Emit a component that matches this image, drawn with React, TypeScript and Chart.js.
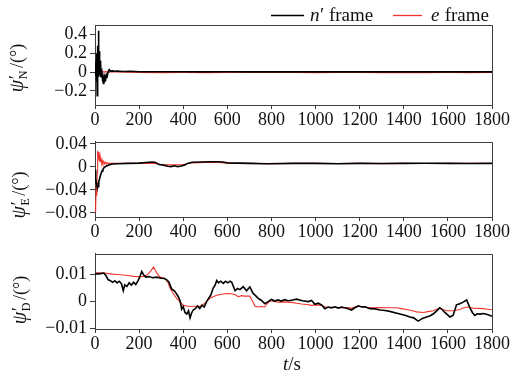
import React, { useEffect, useRef } from "react";
import { Chart, registerables } from "chart.js";
Chart.register(...registerables);

const FONT = '"Liberation Serif", "DejaVu Serif", serif';
const AX = "#3c3c3c";
const TXT = "#111";
const BLACK = "#000000";
const RED = "#f0342c";

const xTickValues = [0, 200, 400, 600, 800, 1000, 1200, 1400, 1600, 1800];
const nYTicks = [-0.2, 0, 0.2, 0.4];
const eYTicks = [-0.08, -0.04, 0, 0.04];
const dYTicks = [-0.01, 0, 0.01];
const legendItems = [
  { italic: "n", rest: "′ frame", color: BLACK },
  { italic: "e", rest: " frame", color: RED },
];

// panel N : [t (s), value (deg)]
const nBlack: [number, number][] = [
  [0, 0.02], [2, 0.08], [4, -0.04], [5, 0.12], [6, -0.06], [7, 0.2], [8, -0.1], [9, 0.15],
  [10, -0.25], [11, 0.2], [12, -0.05], [13, 0.28], [14, 0.05], [15, 0.2], [16, -0.02], [17, 0.44],
  [18, -0.05], [19, 0.22], [20, -0.03], [21, 0.2], [22, 0.0], [23, 0.12], [24, -0.05], [25, 0.1],
  [26, -0.03], [27, 0.06], [28, -0.04], [29, 0.03], [30, -0.06], [32, -0.02], [34, -0.1], [36, -0.08],
  [38, -0.12], [40, -0.08], [42, -0.1], [44, -0.07], [46, -0.09], [48, -0.05], [50, -0.06], [53, -0.03],
  [56, -0.04], [59, 0.0], [62, 0.02], [65, 0.025], [70, 0.01], [80, 0.012], [90, 0.008], [100, 0.01],
  [130, 0.006], [160, 0.008], [200, 0.004], [300, 0.003], [400, 0.004], [500, 0.002], [600, 0.003],
  [700, 0.002], [800, 0.002], [900, 0.002], [1000, 0.002], [1100, 0.002], [1200, 0.002], [1300, 0.002],
  [1400, 0.002], [1500, 0.002], [1600, 0.002], [1700, 0.002], [1800, 0.002],
];
const nRed: [number, number][] = [
  [0, 0.05], [3, 0.08], [6, 0.03], [9, 0.09], [12, 0.05], [15, 0.07], [18, 0.04], [21, 0.05],
  [25, 0.02], [30, 0.01], [40, 0.0], [50, 0.005], [60, 0.0], [80, 0.002], [100, 0.0], [200, -0.004],
  [300, -0.006], [400, -0.004], [500, -0.006], [600, -0.005], [700, -0.002], [800, -0.005], [900, -0.003],
  [1000, -0.006], [1100, -0.004], [1200, -0.005], [1300, -0.006], [1400, -0.003], [1500, -0.006],
  [1600, -0.005], [1700, -0.006], [1800, -0.004],
];

// panel E
const eBlack: [number, number][] = [
  [0, -0.005], [3, -0.02], [6, -0.028], [9, -0.033], [12, -0.036], [14, -0.034], [16, -0.03], [18, -0.026],
  [20, -0.022], [24, -0.016], [28, -0.011], [32, -0.007], [36, -0.004], [40, -0.002], [45, 0.0], [50, 0.001],
  [55, 0.002], [60, 0.003], [70, 0.004], [80, 0.005], [100, 0.0055], [150, 0.006], [200, 0.0065], [230, 0.0075],
  [260, 0.0085], [275, 0.0075], [290, 0.004], [310, 0.003], [330, 0.001], [345, 0.0005], [360, 0.002],
  [375, 0.0005], [390, 0.0015], [405, 0.003], [420, 0.006], [440, 0.008], [480, 0.0085], [520, 0.009],
  [560, 0.009], [580, 0.0085], [600, 0.007], [650, 0.0065], [700, 0.006], [780, 0.0055], [900, 0.006],
  [1000, 0.006], [1100, 0.0055], [1200, 0.006], [1300, 0.0058], [1400, 0.006], [1500, 0.0062], [1600, 0.006],
  [1700, 0.0058], [1800, 0.006],
];
const eRed: [number, number][] = [
  [0, -0.078], [2, -0.06], [4, -0.07], [6, -0.03], [8, -0.05], [10, -0.01], [12, 0.028], [14, 0.018],
  [16, 0.026], [18, 0.014], [20, 0.02], [22, 0.01], [24, 0.016], [26, 0.008], [28, 0.012], [30, 0.006],
  [33, 0.011], [36, 0.006], [40, 0.009], [44, 0.005], [48, 0.008], [52, 0.005], [56, 0.007], [60, 0.006],
  [70, 0.006], [80, 0.006], [100, 0.006], [150, 0.0062], [200, 0.006], [260, 0.0065], [300, 0.004],
  [350, 0.0035], [400, 0.004], [440, 0.007], [500, 0.0075], [560, 0.0075], [600, 0.0065], [700, 0.006],
  [800, 0.0055], [900, 0.006], [1000, 0.006], [1100, 0.0058], [1200, 0.006], [1300, 0.0056], [1400, 0.006],
  [1500, 0.0058], [1600, 0.006], [1700, 0.0062], [1800, 0.006],
];

// panel D
const dBlack: [number, number][] = [
  [0, 0.0103], [20, 0.0102], [40, 0.0105], [50, 0.0095], [60, 0.008], [70, 0.0077], [80, 0.0071], [90, 0.0077],
  [100, 0.0069], [110, 0.0075], [120, 0.0066], [128, 0.004], [135, 0.0062], [145, 0.0056], [155, 0.0069],
  [165, 0.0061], [175, 0.0071], [185, 0.0063], [196, 0.0078], [205, 0.0095], [212, 0.0111], [220, 0.0099],
  [230, 0.009], [245, 0.0092], [260, 0.0088], [280, 0.009], [300, 0.0086], [315, 0.0085], [325, 0.008],
  [335, 0.0072], [348, 0.0046], [360, 0.004], [370, 0.0028], [378, 0.0018], [386, 0.0002], [393, -0.0028],
  [400, -0.0018], [408, -0.004], [416, -0.0046], [424, -0.0034], [431, -0.006], [438, -0.0042], [446, -0.003],
  [455, -0.0026], [465, -0.0016], [475, -0.0025], [485, -0.0014], [495, -0.002], [506, 0.0], [515, 0.0012],
  [525, 0.0024], [536, 0.005], [545, 0.0061], [552, 0.0078], [560, 0.0069], [570, 0.0075], [582, 0.0067],
  [592, 0.0075], [602, 0.0069], [612, 0.0075], [620, 0.0071], [635, 0.004], [646, 0.0048], [657, 0.0044],
  [672, 0.0055], [687, 0.004], [702, 0.0054], [717, 0.003], [728, 0.0022], [740, 0.0012], [755, 0.0004],
  [770, -0.0008], [785, 0.0], [800, 0.0008], [815, 0.0002], [830, 0.0006], [845, 0.0002], [860, 0.0007],
  [875, 0.0003], [890, 0.0005], [914, 0.0009], [940, 0.0003], [967, 0.0], [982, 0.0004], [997, -0.001],
  [1012, -0.0006], [1027, -0.0012], [1042, -0.0026], [1057, -0.002], [1073, -0.0023], [1088, -0.0019],
  [1103, -0.0024], [1118, -0.002], [1133, -0.0023], [1148, -0.0026], [1163, -0.0031], [1180, -0.0022],
  [1194, -0.0016], [1210, -0.002], [1224, -0.0019], [1247, -0.0026], [1270, -0.0027], [1292, -0.0031],
  [1315, -0.0033], [1337, -0.0036], [1360, -0.0041], [1383, -0.0046], [1405, -0.005], [1428, -0.0057],
  [1445, -0.006], [1465, -0.0072], [1485, -0.0062], [1503, -0.0057], [1520, -0.0052], [1533, -0.0046],
  [1548, -0.0035], [1563, -0.0023], [1575, -0.003], [1586, -0.004], [1598, -0.0048], [1609, -0.0057],
  [1624, -0.005], [1639, -0.0012], [1654, -0.0008], [1669, -0.0002], [1685, 0.0006], [1700, -0.0023],
  [1711, -0.004], [1722, -0.0051], [1733, -0.0045], [1745, -0.0046], [1760, -0.0044], [1775, -0.0047],
  [1788, -0.005], [1800, -0.0054],
];
const dRed: [number, number][] = [
  [0, 0.0105], [20, 0.0106], [45, 0.0105], [60, 0.0103], [80, 0.0101], [100, 0.01], [128, 0.0098],
  [150, 0.0096], [174, 0.0093], [200, 0.0092], [219, 0.0093], [235, 0.0098], [242, 0.0103], [255, 0.0115],
  [265, 0.0127], [272, 0.0118], [280, 0.0105], [295, 0.009], [317, 0.0085], [330, 0.0072], [340, 0.005],
  [355, 0.003], [370, 0.0012], [385, 0.0], [400, -0.0014], [415, -0.0016], [431, -0.0018], [450, -0.0017],
  [476, -0.0017], [499, -0.0006], [510, 0.0004], [521, 0.0012], [535, 0.0018], [552, 0.0023], [575, 0.0027],
  [597, 0.003], [620, 0.0029], [635, 0.0025], [650, 0.0018], [665, 0.0022], [680, 0.002], [702, 0.002],
  [712, 0.0005], [725, -0.0017], [740, -0.002], [755, -0.0018], [770, -0.002], [780, -0.0008], [793, 0.0003],
  [810, 0.0], [830, -0.0002], [860, -0.0001], [890, -0.0003], [915, -0.0006], [937, -0.0009], [960, -0.0011],
  [982, -0.0014], [1005, -0.0012], [1027, -0.0014], [1042, -0.0019], [1057, -0.0022], [1088, -0.0021],
  [1118, -0.0023], [1140, -0.0022], [1163, -0.0024], [1194, -0.0017], [1224, -0.002], [1247, -0.0023],
  [1290, -0.0022], [1330, -0.0023], [1367, -0.0023], [1390, -0.0026], [1413, -0.0029], [1440, -0.0034],
  [1458, -0.0038], [1488, -0.004], [1510, -0.0037], [1533, -0.0034], [1550, -0.0028], [1563, -0.0023],
  [1580, -0.003], [1594, -0.0034], [1624, -0.0034], [1654, -0.0029], [1670, -0.0024], [1685, -0.002],
  [1700, -0.0022], [1715, -0.0024], [1740, -0.0025], [1760, -0.0026], [1780, -0.0028], [1800, -0.003],
];

type Panel = {
  top: number; h: number; areaTop: number; areaBottom: number;
  min: number; max: number; ticks: number[];
  black: [number, number][]; red: [number, number][];
  sub: string; tcx: number; tcy: number; legend?: boolean; xTitle?: boolean;
};

const panels: Panel[] = [
  { top: 0, h: 128, areaTop: 25, areaBottom: 105, min: -0.35, max: 0.5, ticks: nYTicks, black: nBlack, red: nRed, sub: "N", tcx: 18, tcy: 68, legend: true },
  { top: 128, h: 112, areaTop: 138, areaBottom: 217, min: -0.087, max: 0.0435, ticks: eYTicks, black: eBlack, red: eRed, sub: "E", tcx: 20, tcy: 195 },
  { top: 240, h: 133, areaTop: 249, areaBottom: 329, min: -0.0101, max: 0.0176, ticks: dYTicks, black: dBlack, red: dRed, sub: "D", tcx: 21, tcy: 300, xTitle: true },
];

const X_AXIS_H = 22;
const Y_AXIS_W = 95;
const RIGHT_PAD = 20;

function fmtY(v: number): string {
  if (v === 0) return "0";
  return (v < 0 ? "−" : "") + String(Math.abs(v));
}

function makeConfig(p: Panel): any {
  const localTop = p.areaTop - p.top;
  const localBottom = p.areaBottom - p.top;
  const padBottom = p.h - localBottom - X_AXIS_H;
  const extra = {
    id: "extra" + p.sub,
    afterDraw(chart: any) {
      const ctx = chart.ctx as CanvasRenderingContext2D;
      const a = chart.chartArea;
      ctx.save();
      ctx.strokeStyle = AX;
      ctx.lineWidth = 1;
      ctx.beginPath();
      const l = Math.round(a.left), t = Math.round(a.top) + 0.5, r = Math.round(a.right) + 0.5, b = Math.round(a.bottom);
      ctx.moveTo(l, t);
      ctx.lineTo(r, t);
      ctx.lineTo(r, b);
      ctx.stroke();

      ctx.save();
      ctx.translate(p.tcx, p.tcy - p.top);
      ctx.rotate(-Math.PI / 2);
      ctx.fillStyle = TXT;
      ctx.textBaseline = "alphabetic";
      ctx.textAlign = "left";
      const psiFont = "italic 20px " + FONT;
      const primeFont = "19px " + FONT;
      const subFont = "12px " + FONT;
      const mainFont = "18px " + FONT;
      ctx.font = psiFont; const wPsi = ctx.measureText("ψ").width;
      ctx.font = subFont; const wSub = ctx.measureText(p.sub).width;
      ctx.font = mainFont; const wRest = ctx.measureText("/(°)").width;
      const total = wPsi + wSub + 3 + wRest;
      let x = -total / 2;
      const base = 5;
      ctx.font = psiFont; ctx.fillText("ψ", x, base); x += wPsi;
      ctx.font = primeFont; ctx.fillText("′", x + 0.5, base - 1);
      ctx.font = subFont; ctx.fillText(p.sub, x + 0.5, base + 4);
      x += wSub + 3;
      ctx.font = mainFont; ctx.fillText("/(°)", x, base);
      ctx.restore();

      if (p.legend) {
        const ly = 15;
        const segs = [
          { x0: 271, x1: 304, tx: 310 },
          { x0: 393, x1: 422, tx: 431 },
        ];
        legendItems.forEach((it, i) => {
          const s = segs[i];
          ctx.strokeStyle = it.color;
          ctx.lineWidth = 1.3;
          ctx.beginPath();
          ctx.moveTo(s.x0, ly + 0.5);
          ctx.lineTo(s.x1, ly + 0.5);
          ctx.stroke();
          ctx.fillStyle = TXT;
          ctx.textBaseline = "alphabetic";
          ctx.font = "italic 19px " + FONT;
          ctx.fillText(it.italic, s.tx, ly + 6);
          const w = ctx.measureText(it.italic).width;
          ctx.font = "19px " + FONT;
          ctx.fillText(it.rest, s.tx + w + 0.5, ly + 6);
        });
      }

      if (p.xTitle) {
        const by = 370 - p.top;
        ctx.fillStyle = TXT;
        ctx.textBaseline = "alphabetic";
        ctx.font = "italic 19px " + FONT;
        const wt = ctx.measureText("t").width;
        ctx.font = "19px " + FONT;
        const ws = ctx.measureText("/s").width;
        const x0 = 292 - (wt + ws) / 2;
        ctx.font = "italic 19px " + FONT;
        ctx.fillText("t", x0, by);
        ctx.font = "19px " + FONT;
        ctx.fillText("/s", x0 + wt, by);
      }
      ctx.restore();
    },
  };

  const tickFont = { family: FONT, size: 18 };
  return {
    type: "line",
    data: {
      datasets: [
        {
          label: "n′ frame",
          data: p.black.map(([x, y]) => ({ x, y })),
          borderColor: BLACK,
          borderWidth: 1.6,
          pointRadius: 0,
          tension: 0,
          fill: false,
        },
        {
          label: "e frame",
          data: p.red.map(([x, y]) => ({ x, y })),
          borderColor: RED,
          borderWidth: 1.1,
          pointRadius: 0,
          tension: 0,
          fill: false,
        },
      ],
    },
    options: {
      responsive: false,
      maintainAspectRatio: false,
      animation: false,
      events: [],
      layout: { padding: { left: 0, right: RIGHT_PAD, top: localTop, bottom: padBottom } },
      plugins: { legend: { display: false }, tooltip: { enabled: false }, title: { display: false } },
      scales: {
        x: {
          type: "linear",
          min: 0,
          max: 1800,
          afterBuildTicks: (s: any) => { s.ticks = xTickValues.map((v) => ({ value: v })); },
          afterFit: (s: any) => { s.height = X_AXIS_H; },
          ticks: { font: tickFont, color: TXT, padding: 0, maxRotation: 0, minRotation: 0, autoSkip: false, callback: (v: any) => String(v) },
          grid: { display: true, drawOnChartArea: false, drawTicks: true, tickLength: 4, color: AX, lineWidth: 1 },
          border: { display: true, color: AX, width: 1 },
        },
        y: {
          type: "linear",
          min: p.min,
          max: p.max,
          afterBuildTicks: (s: any) => { s.ticks = p.ticks.map((v) => ({ value: v })); },
          afterFit: (s: any) => { s.width = Y_AXIS_W; },
          ticks: { font: tickFont, color: TXT, padding: 3, autoSkip: false, callback: (v: any) => fmtY(Number(v)) },
          grid: { display: true, drawOnChartArea: false, drawTicks: true, tickLength: 5, color: AX, lineWidth: 1 },
          border: { display: true, color: AX, width: 1 },
        },
      },
    },
    plugins: [extra],
  };
}

export default function App() {
  const r0 = useRef<HTMLCanvasElement>(null);
  const r1 = useRef<HTMLCanvasElement>(null);
  const r2 = useRef<HTMLCanvasElement>(null);
  const refs = [r0, r1, r2];

  useEffect(() => {
    const charts: Chart[] = [];
    refs.forEach((r, i) => {
      if (r.current) charts.push(new Chart(r.current, makeConfig(panels[i])));
    });
    return () => charts.forEach((c) => c.destroy());
  }, []);

  return (
    <div style={{ position: "fixed", left: 0, top: 0, width: 512, height: 373, background: "#fff" }}>
      {panels.map((p, i) => (
        <canvas
          key={i}
          ref={refs[i]}
          width={512}
          height={p.h}
          style={{ position: "absolute", left: 0, top: p.top, width: 512, height: p.h, display: "block" }}
        />
      ))}
    </div>
  );
}
